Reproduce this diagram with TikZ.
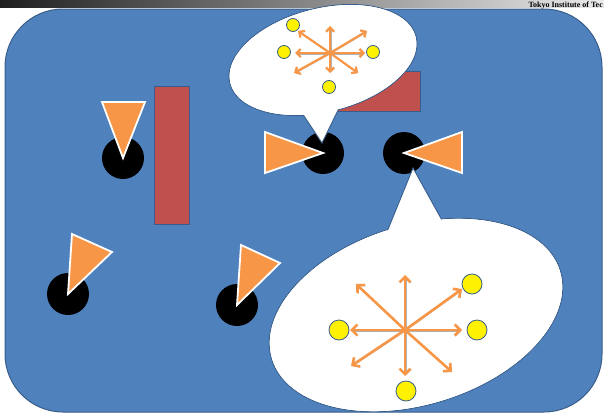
\documentclass[tikz,border=0pt]{standalone}
\usepackage{fontspec}
\setmainfont{Liberation Serif}
\usetikzlibrary{arrows.meta}
\definecolor{fieldblue}{HTML}{4F81BD}
\definecolor{edgeblue}{HTML}{385D8A}
\definecolor{wallred}{HTML}{C0504D}
\definecolor{headorange}{HTML}{F79646}

\begin{document}
\begin{tikzpicture}[x=1pt, y=-1pt,
    robot/.style={circle, fill=black, inner sep=0pt, minimum size=42pt},
    heading/.style={fill=headorange, draw=white, line width=1.8pt},
    wall/.style={fill=wallred, draw=edgeblue, line width=0.6pt},
    bubble/.style={fill=white, draw=edgeblue, line width=0.9pt},
    ray/.style={draw=headorange, line width=2.2pt,
                -{Straight Barb[length=4pt, width=8pt]},
                preaction={draw=black!30, transform canvas={shift={(0.8pt,-0.8pt)}}}},
    bigray/.style={ray, line width=2.6pt,
                   -{Straight Barb[length=5.5pt, width=11pt]}},
    goal/.style={circle, fill=yellow, draw=edgeblue, line width=0.8pt,
                 inner sep=0pt, minimum size=13pt},
    biggoal/.style={goal, minimum size=20pt},
]
\useasboundingbox (0,0) rectangle (604,415);

% title strip
\shade[left color=black!88, right color=black!8] (0,0) rectangle (604,7);
\node[anchor=base east, inner sep=0pt,
      font=\fontsize{8}{8}\selectfont\bfseries] (title) at (603,7) {Tokyo Institute of Tec};

% field
\draw[fill=fieldblue, draw=edgeblue, line width=1pt, rounded corners=58pt]
     (5,9) rectangle (602,412);

% walls
\draw[wall] (154,86) rectangle (189,224);
\draw[wall] (330,71) rectangle (420,111);

% robots with their heading
\node[robot] (r1) at (123,158) {};
\node[robot] (r2) at (68,294)  {};
\node[robot] (r3) at (237,305) {};
\node[robot] (r4) at (323,153) {};
\node[robot] (r5) at (404,153) {};
\draw[heading] (102,102) -- (145,102) -- (r1.center) -- cycle;
\draw[heading] (72,234) -- (112,252) -- (r2.center) -- cycle;
\draw[heading] (241,245) -- (280,263) -- (r3.center) -- cycle;
\draw[heading] (265,132) -- (265,173) -- (r4.center) -- cycle;
\draw[heading] (462,132) -- (462,173) -- (r5.center) -- cycle;

% small bubble above r4
\draw[bubble] (323,60) ellipse [x radius=96, y radius=52, rotate=14];
\draw[bubble] (296,104) -- (322,143) -- (343,100) -- cycle;
\fill[white] (323,60) ellipse [x radius=95.4, y radius=51.4, rotate=14];

\coordinate (hubA) at (330,53);
\foreach \dx/\dy in {0/-27, 35/0, -35/0, 0/20, -32/-22, 37/-22, -36/20, 28/20}
  \draw[ray] (hubA) -- ++(\dx,\dy);
\node[goal] (a1) at (293,25) {};
\node[goal] (a2) at (284,52) {};
\node[goal] (a3) at (373,52) {};
\node[goal] (a4) at (329,87) {};

% big bubble below r5
\draw[bubble] (416,315) ellipse [x radius=151, y radius=90, rotate=17];
\draw[bubble] (380,249) -- (413,168) -- (453,240) -- cycle;
\fill[white] (416,315) ellipse [x radius=150.4, y radius=89.4, rotate=17];

\coordinate (hubB) at (405,330);
\foreach \dx/\dy in {0/-55, 57/0, -55/0, 0/46, -49/-46, 57/-41, -54/36, 47/42}
  \draw[bigray] (hubB) -- ++(\dx,\dy);
\node[biggoal] (b1) at (339,330) {};
\node[biggoal] (b2) at (477,330) {};
\node[biggoal] (b3) at (472,284) {};
\node[biggoal] (b4) at (406,391) {};

\end{tikzpicture}
\end{document}
